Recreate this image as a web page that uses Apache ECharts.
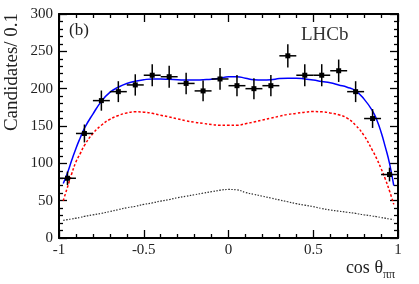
<!DOCTYPE html>
<html>
<head>
<meta charset="utf-8">
<script src="https://cdn.jsdelivr.net/npm/echarts@6/dist/echarts.min.js"></script>
<style>
html,body{margin:0;padding:0;background:#fff;}
#chart{width:419px;height:284px;}
</style>
</head>
<body>
<div id="chart"></div>
<script>
// ---- data ----
const binCenters = [-0.95,-0.85,-0.75,-0.65,-0.55,-0.45,-0.35,-0.25,-0.15,-0.05,0.05,0.15,0.25,0.35,0.45,0.55,0.65,0.75,0.85,0.95];
const binWidth = 0.1;
const candidates = [80,140,184,196,205,218,216,207,197,213,204,200,204,244,218,218,224,196,160,85];
const candErr = [9,12,13.5,14,14.3,14.8,14.7,14.4,14,14.6,14.3,14.1,14.3,15.6,14.8,14.8,15,14,12.6,9.2];

const curveX = [-0.975,-0.95,-0.925,-0.9,-0.875,-0.85,-0.8,-0.75,-0.7,-0.65,-0.6,-0.55,-0.5,-0.45,-0.4,-0.35,-0.3,-0.25,-0.2,-0.15,-0.1,-0.05,0,0.05,0.1,0.15,0.2,0.25,0.3,0.35,0.4,0.45,0.5,0.55,0.6,0.65,0.7,0.75,0.8,0.85,0.875,0.9,0.925,0.95,0.975];
const totalFit = [73,87,104,120,134,147,166,183,195,202,207,210,212,213,213,212.5,212,211.5,211.5,212,212.5,214,216,216,214,212,211.5,212,213.5,214,214,213,211.5,209.5,208,205,202,197,186,170,158,142,122,100,70];
const signalFit = [50,68,86,102,113,124,140,151,159,164,167.5,169,168.5,167,164.5,162,159.5,157,155,153.5,152,151,151,151,153,155.5,158,160.5,163,165.5,167,168.5,169.3,169,167.5,165,160.5,151,137,117,106,93,79,63,45];
const backgroundFit = [23.5,24.5,25.5,26.5,27.5,29,31,33,35.5,38,40.5,42.5,45,47,49.5,51.5,54,56,58,60,62,64,65,64.5,61,58.5,56,53.5,51,48.5,46,44,42,39.5,37.5,36,34.5,33,31,29.5,28.5,27.5,26.5,25.5,24.5];

const xTicks = {min:-1, max:1, interval:0.5};
const yTicks = {min:0, max:300, interval:50};

// ---- build ----
const pts = binCenters.map((x,i)=>[x, candidates[i], candErr[i], binWidth/2]);
const pair = arr => curveX.map((x,i)=>[x, arr[i]]);

const serif = 'Liberation Serif';
const labelStyle = {fontFamily: serif, fontSize: 15, color: '#222'};

function mkX(pos, showLabel){
  return {
    type:'value', position:pos, min:xTicks.min, max:xTicks.max, interval:xTicks.interval,
    axisLine:{show:true, onZero:false, lineStyle:{color:'#000', width:2}},
    axisTick:{show:true, inside:true, length:8, lineStyle:{color:'#000', width:1.3}},
    minorTick:{show:true, splitNumber:5, length:4, lineStyle:{color:'#000', width:1.3}},
    axisLabel:Object.assign({show:showLabel, margin:5}, labelStyle),
    splitLine:{show:false}, minorSplitLine:{show:false}
  };
}
function mkY(pos, showLabel){
  return {
    type:'value', position:pos, min:yTicks.min, max:yTicks.max, interval:yTicks.interval,
    axisLine:{show:true, onZero:false, lineStyle:{color:'#000', width:2}},
    axisTick:{show:true, inside:true, length:8, lineStyle:{color:'#000', width:1.3}},
    minorTick:{show:true, splitNumber:5, length:4, lineStyle:{color:'#000', width:1.3}},
    axisLabel:Object.assign({show:showLabel, margin:6}, labelStyle),
    splitLine:{show:false}, minorSplitLine:{show:false}
  };
}

const chart = echarts.init(document.getElementById('chart'), null, {renderer:'canvas'});
chart.setOption({
  animation:false,
  backgroundColor:'#fff',
  grid:{left:59, right:21, top:14, bottom:46, containLabel:false},
  xAxis:[mkX('bottom', true), mkX('top', false)],
  yAxis:[mkY('left', true), mkY('right', false)],
  graphic:[
    {type:'text', x:12, y:72, rotation:Math.PI/2,
     style:{text:'Candidates/ 0.1', fontFamily:serif, fontSize:19, fill:'#222', align:'center', verticalAlign:'middle'}},
    {type:'text', x:383, y:277,
     style:{text:'cos θ', fontFamily:serif, fontSize:18, fill:'#222', align:'right', verticalAlign:'bottom'}},
    {type:'text', x:383, y:281,
     style:{text:'ππ', fontFamily:serif, fontSize:12, fill:'#222', align:'left', verticalAlign:'bottom'}},
    {type:'text', x:69, y:31,
     style:{text:'(b)', fontFamily:serif, fontSize:17, fill:'#222', align:'left', verticalAlign:'middle'}},
    {type:'text', x:301, y:35,
     style:{text:'LHCb', fontFamily:serif, fontSize:19, fill:'#333', align:'left', verticalAlign:'middle'}}
  ],
  series:[
    {type:'line', name:'background', data:pair(backgroundFit), smooth:true, showSymbol:false,
     lineStyle:{color:'#333', width:1.2, type:[1.5,1.5]}, z:2},
    {type:'line', name:'signal', data:pair(signalFit), smooth:true, showSymbol:false,
     lineStyle:{color:'#ff0000', width:1.5, type:[2.5,2]}, z:3},
    {type:'line', name:'total', data:pair(totalFit), smooth:true, showSymbol:false,
     lineStyle:{color:'#0000ff', width:1.5}, z:4},
    {type:'custom', name:'data', data:pts, z:5,
     encode:{x:0, y:1},
     renderItem:function(params, api){
       const x = api.value(0), y = api.value(1), e = api.value(2), hw = api.value(3);
       const c = api.coord([x,y]);
       const t = api.coord([x,y+e]), b = api.coord([x,y-e]);
       const l = api.coord([x-hw,y]), r = api.coord([x+hw,y]);
       const st = {stroke:'#000', lineWidth:1.5};
       return {type:'group', children:[
         {type:'line', shape:{x1:t[0],y1:t[1],x2:b[0],y2:b[1]}, style:st},
         {type:'line', shape:{x1:l[0],y1:l[1],x2:r[0],y2:r[1]}, style:st},
         {type:'rect', shape:{x:c[0]-2.5,y:c[1]-2.5,width:5,height:5}, style:{fill:'#000'}}
       ]};
     }}
  ]
});
</script>
</body>
</html>
